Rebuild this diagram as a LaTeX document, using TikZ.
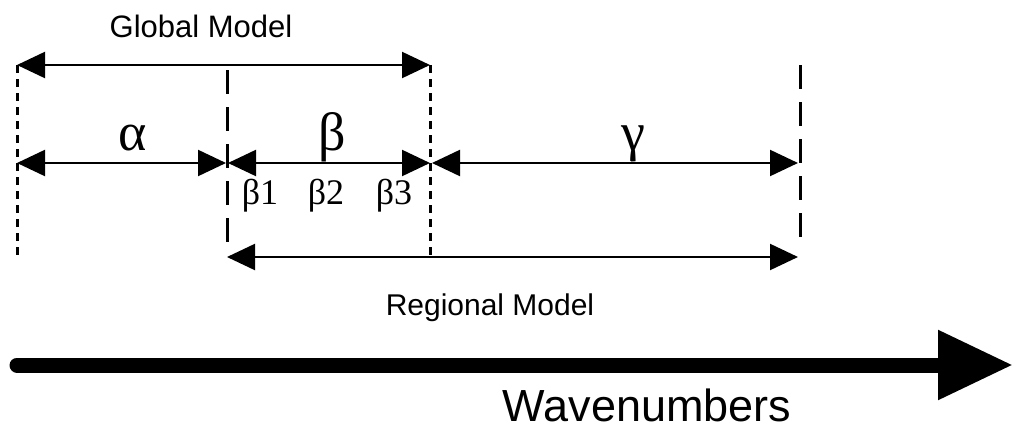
\documentclass[tikz,border=0pt]{standalone}
\usepackage{fontspec}
\setmainfont{Liberation Serif}
\setsansfont{Liberation Sans}
\usetikzlibrary{arrows.meta}

\begin{document}
\begin{tikzpicture}[x=0.5pt, y=-0.5pt,
    dimarrow/.style={line width=1.1pt, {Triangle[length=14pt,width=13pt]}-{Triangle[length=14pt,width=13pt]}},
    dotline/.style={line width=1.5pt, dash pattern=on 4pt off 3pt},
    dashline/.style={line width=1.5pt, dash pattern=on 12pt off 6.5pt},
    greek/.style={font=\fontsize{27}{30}\selectfont, inner sep=0pt, anchor=base},
    sublabel/.style={font=\fontsize{18}{21}\selectfont, inner sep=0pt, anchor=base},
    modellabel/.style={font=\sffamily\fontsize{15.5}{18}\selectfont, inner sep=0pt, anchor=base}]
  \useasboundingbox (0,0) rectangle (1014,428);
  % boundaries
  \coordinate (a0) at (17,65);   \coordinate (a1) at (17,257);
  \coordinate (b0) at (227,70);  \coordinate (b1) at (227,250);
  \coordinate (c0) at (430,65);  \coordinate (c1) at (430,257);
  \coordinate (d0) at (800,65);  \coordinate (d1) at (800,247);
  \draw[dotline] (a0) -- (a1);
  \draw[dashline] (b0) -- (b1);
  \draw[dotline] (c0) -- (c1);
  \draw[dashline] (d0) -- (d1);
  % global model
  \node[modellabel] (glabel) at (201,38) {Global Model};
  \coordinate (g0) at (17,65); \coordinate (g1) at (430,65);
  \draw[dimarrow] (g0) -- (g1);
  % alpha, beta, gamma
  \coordinate (m0) at (17,163);  \coordinate (m1) at (226,163);
  \coordinate (m2) at (228,163); \coordinate (m3) at (430,163);
  \coordinate (m4) at (432,163); \coordinate (m5) at (798,163);
  \draw[dimarrow] (m0) -- (m1);
  \draw[dimarrow] (m2) -- (m3);
  \draw[dimarrow] (m4) -- (m5);
  \node[greek] (alpha) at (133,150) {α};
  \node[greek] (beta) at (332,150) {β};
  \node[greek] (gamma) at (633,150) {γ};
  \node[sublabel] (beta1) at (260,204) {β1};
  \node[sublabel] (beta2) at (326,204) {β2};
  \node[sublabel] (beta3) at (394,204) {β3};
  % regional model
  \coordinate (r0) at (227,257); \coordinate (r1) at (798,257);
  \draw[dimarrow] (r0) -- (r1);
  \node[modellabel, font=\sffamily\fontsize{15}{18}\selectfont] (rlabel) at (490,315) {Regional Model};
  % wavenumber axis
  \coordinate (w0) at (17,365); \coordinate (w1) at (1013,365);
  \draw[line width=7.5pt, line cap=round, -{Triangle[length=37.5pt,width=33pt]}] (w0) -- (w1);
  \node[modellabel, font=\sffamily\fontsize{22.5}{26}\selectfont] (wlabel) at (647,421) {Wavenumbers};
\end{tikzpicture}
\end{document}
